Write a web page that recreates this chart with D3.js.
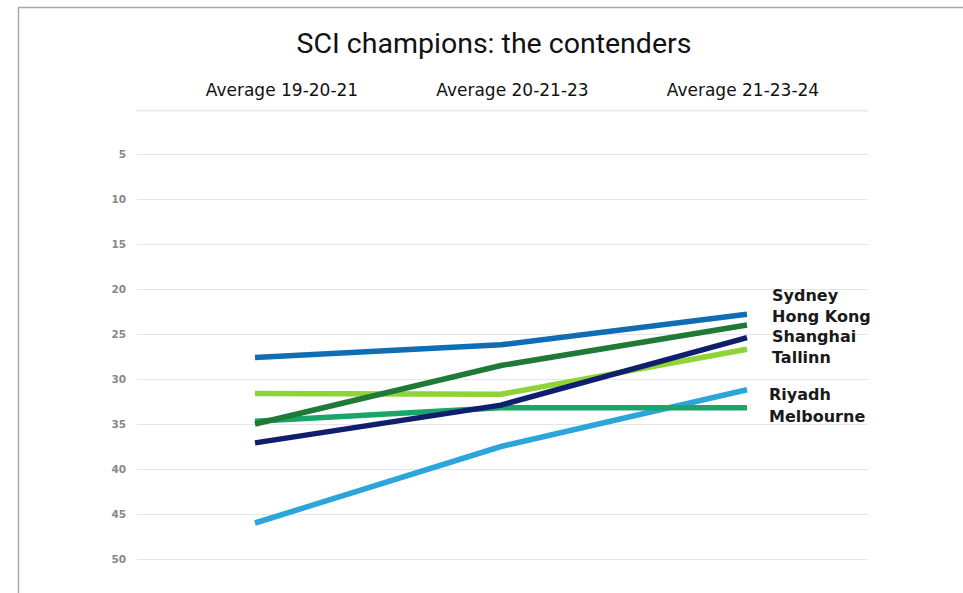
<!DOCTYPE html>
<html>
<head>
<meta charset="utf-8">
<script src="https://cdn.jsdelivr.net/npm/d3@7/dist/d3.min.js"></script>
<style>
html,body{margin:0;padding:0;background:#fff;}
svg{display:block;}
</style>
</head>
<body>
<svg id="chart" width="963" height="593"></svg>
<script>
const title = "SCI champions: the contenders";
const periods = ["Average 19-20-21", "Average 20-21-23", "Average 21-23-24"];
const cities = ["Sydney", "Hong Kong", "Shanghai", "Tallinn", "Riyadh", "Melbourne"];
const sydney    = [27.6, 26.2, 22.8];
const hongKong  = [35.0, 28.5, 24.0];
const shanghai  = [37.1, 32.9, 25.4];
const tallinn   = [31.6, 31.7, 26.7];
const riyadh    = [46.0, 37.5, 31.2];
const melbourne = [34.7, 33.2, 33.2];
const yTicks = [5, 10, 15, 20, 25, 30, 35, 40, 45, 50];

const seriesValues = [sydney, hongKong, shanghai, tallinn, riyadh, melbourne];
const colors = ["#0f6db3", "#1f7a35", "#0f1f6e", "#8fd336", "#2ba5da", "#1ca56a"];
const labelY = [301, 322, 342, 363, 400, 422];
const drawOrder = [4, 5, 3, 2, 1, 0];

const svg = d3.select("#chart");

// frame
svg.append("line").attr("x1", 18.5).attr("x2", 18.5).attr("y1", 7).attr("y2", 593)
  .attr("stroke", "#a9a9a9").attr("stroke-width", 1.5);
svg.append("line").attr("x1", 18).attr("x2", 963).attr("y1", 7.5).attr("y2", 7.5)
  .attr("stroke", "#a9a9a9").attr("stroke-width", 1.5);

const y = d3.scaleLinear().domain([5, 50]).range([154, 559]);
const x = d3.scalePoint().domain(periods).range([255, 747]);
const xHead = d3.scalePoint().domain(periods).range([282, 743]);

// title
svg.append("text").attr("x", 494).attr("y", 53).attr("text-anchor", "middle")
  .attr("font-family", "Roboto, 'Liberation Sans', sans-serif").attr("font-size", 28.5)
  .attr("fill", "#111").text(title);

// column headers
svg.selectAll("text.head").data(periods).join("text").attr("class", "head")
  .attr("x", d => xHead(d)).attr("y", 96).attr("text-anchor", "middle")
  .attr("font-family", "'DejaVu Sans', sans-serif").attr("font-size", 17)
  .attr("fill", "#111").text(d => d);

svg.append("line").attr("x1", 136).attr("x2", 868).attr("y1", 110.5).attr("y2", 110.5)
  .attr("stroke", "#ececec").attr("stroke-width", 2);

// y axis
const yAxis = d3.axisLeft(y).tickValues(yTicks).tickSize(-(868 - 137)).tickPadding(11);
const gy = svg.append("g").attr("transform", "translate(137,0)").call(yAxis);
gy.select(".domain").remove();
gy.selectAll(".tick line").attr("stroke", "#e6e6e6").attr("stroke-width", 1.2);
gy.selectAll(".tick text").attr("fill", "#888").attr("font-size", 10.5)
  .attr("font-weight", "bold").attr("font-family", "'DejaVu Sans', sans-serif");

// lines
const line = d3.line().x((d, i) => x(periods[i])).y(d => y(d));
svg.selectAll("path.series").data(drawOrder).join("path").attr("class", "series")
  .attr("d", i => line(seriesValues[i]))
  .attr("fill", "none").attr("stroke", i => colors[i]).attr("stroke-width", 5.5)
  .attr("stroke-linejoin", "round");

// labels
svg.selectAll("text.lab").data(cities).join("text").attr("class", "lab")
  .attr("x", (d, i) => i >= 4 ? 769 : 772).attr("y", (d, i) => labelY[i])
  .attr("font-family", "'DejaVu Sans', sans-serif").attr("font-weight", "bold")
  .attr("font-size", 16).attr("fill", "#1a1a1a").text(d => d);
</script>
</body>
</html>
